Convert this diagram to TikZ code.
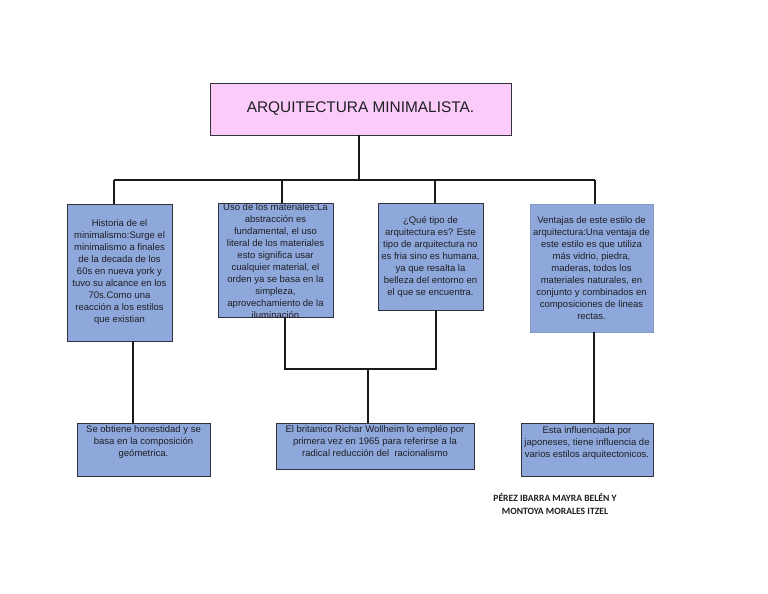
\documentclass[tikz,border=0pt]{standalone}
\usepackage{fontspec}
\setmainfont{Liberation Sans}
\newfontfamily\authfont{Carlito}
\usetikzlibrary{calc}
\definecolor{boxblue}{RGB}{143,168,220}
\definecolor{boxline}{RGB}{50,50,60}
\definecolor{titlepink}{RGB}{251,204,250}
\definecolor{txt}{RGB}{30,30,35}
\tikzset{
  box/.style={draw=boxline, line width=0.9pt, fill=boxblue, inner sep=0pt},
  paleframe/.style={draw=boxblue!85!black!90, line width=0.6pt, fill=boxblue, inner sep=0pt},
  boxtext/.style={align=center, text=txt, inner sep=0pt, font=\fontsize{9.5}{12}\selectfont},
  conn/.style={draw=black!90, line width=1.1pt},
}
\begin{document}
\begin{tikzpicture}[x=1pt,y=-1pt]
\useasboundingbox (0,0) rectangle (768,594);
% title
\node[box, fill=titlepink, minimum width=301pt, minimum height=52pt, font=\fontsize{15.4}{18}\selectfont, text=txt] (title) at (360.5,109) {ARQUITECTURA MINIMALISTA.};
% upper boxes
\node[box, minimum width=105pt, minimum height=137pt] (b1) at (119.5,272.5) {};
\node[box, minimum width=115pt, minimum height=114pt] (b2) at (275.5,260) {};
\node[box, minimum width=105pt, minimum height=107pt] (b3) at (430.5,256.5) {};
\node[paleframe, minimum width=123pt, minimum height=128pt] (b4) at (591.5,268) {};
% lower boxes
\node[box, minimum width=133pt, minimum height=53pt] (c1) at (143.5,449.5) {};
\node[box, minimum width=198pt, minimum height=46pt] (c2) at (375,446) {};
\node[box, minimum width=132pt, minimum height=53pt] (c3) at (587,449.5) {};
% connectors top
\coordinate (j0) at (359,180);
\coordinate (j1) at (114,180);
\coordinate (j2) at (282,180);
\coordinate (j3) at (435,180);
\coordinate (j4) at (595,180);
\draw[conn] (title.south -| j0) -- (j0);
\draw[conn] (j1) -- (j4);
\draw[conn] (j1) -- (j1 |- b1.north);
\draw[conn] (j2) -- (j2 |- b2.north);
\draw[conn] (j3) -- (j3 |- b3.north);
\draw[conn] (j4) -- (j4 |- b4.north);
% connectors bottom
\coordinate (k1) at (133,0);
\draw[conn] (b1.south -| k1) -- (c1.north -| k1);
\coordinate (m2) at (285,369);
\coordinate (m3) at (436,369);
\coordinate (m0) at (368,369);
\draw[conn] (b2.south -| m2) -- (m2) -- (m3) -- (b3.south -| m3);
\draw[conn] (m0) -- (c2.north -| m0);
\coordinate (k4) at (594,0);
\draw[conn] (b4.south -| k4) -- (c3.north -| k4);
% texts
\node[boxtext] (t1) at (b1) {Historia de el\\minimalismo:Surge el\\minimalismo a finales\\de la decada de los\\60s en nueva york y\\tuvo su alcance en los\\70s.Como una\\reacción a los estilos\\que existian};
\begin{scope}
\clip (b2.south west) rectangle (b2.north east);
\node[boxtext] (t2) at ($(b2)+(0,1)$) {Uso de los materiales:La\\abstracción es\\fundamental, el uso\\literal de los materiales\\esto significa usar\\cualquier material, el\\orden ya se basa en la\\simpleza,\\aprovechamiento de la\\iluminación};
\end{scope}
\node[boxtext] (t3) at (b3) {¿Qué tipo de\\arquitectura es? Este\\tipo de arquitectura no\\es fria sino es humana,\\ya que resalta la\\belleza del entorno en\\el que se encuentra.};
\node[boxtext] (t4) at (b4) {Ventajas de este estilo de\\arquitectura:Una ventaja de\\este estilo es que utiliza\\más vidrio, piedra,\\maderas, todos los\\materiales naturales, en\\conjunto y combinados en\\composiciones de lineas\\rectas.};
\node[boxtext, anchor=north] (u1) at ($(c1.north)+(0,3)$) {Se obtiene honestidad y se\\basa en la composición\\geómetrica.};
\node[boxtext, anchor=north] (u2) at ($(c2.north)+(0,3)$) {El britanico Richar Wollheim lo empléo por\\primera vez en 1965 para referirse a la\\radical reducción del\ \ racionalismo};
\node[boxtext, anchor=north] (u3) at ($(c3.north)+(0,3.5)$) {Esta influenciada por\\japoneses, tiene influencia de\\varios estilos arquitectonicos.};
% authors
\node[align=center, inner sep=0pt, text=txt, font=\authfont\bfseries\fontsize{9.6}{13}\selectfont] (auth) at (555,504) {PÉREZ IBARRA MAYRA BELÉN Y\\MONTOYA MORALES ITZEL};
\end{tikzpicture}
\end{document}
